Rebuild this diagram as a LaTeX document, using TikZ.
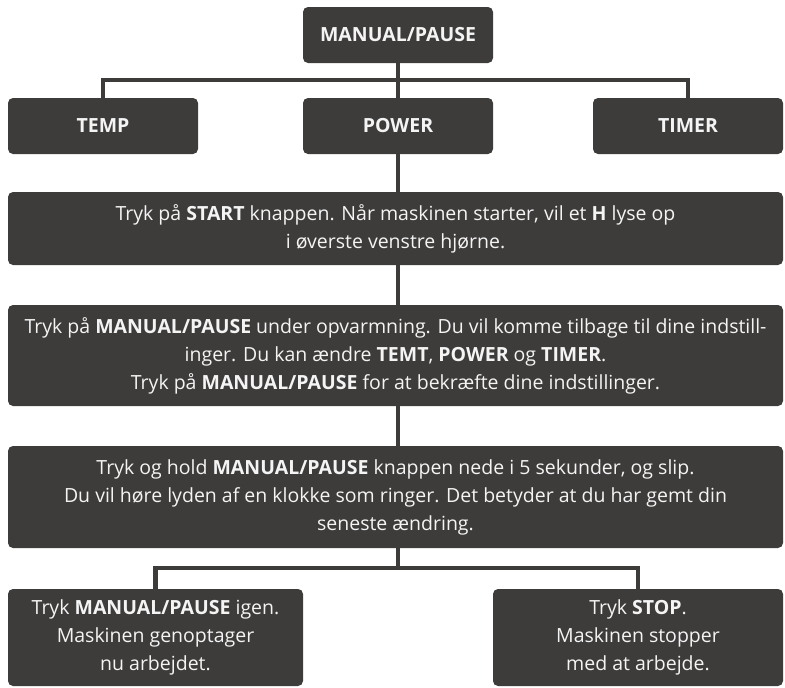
\documentclass[tikz,border=0pt]{standalone}
\usepackage{fontspec}
\setmainfont{Open Sans}
\definecolor{boxgray}{HTML}{3E3C3B}
\definecolor{txtwhite}{HTML}{F4F4F4}
\begin{document}
\begin{tikzpicture}[x=1pt,y=-1pt,
  box/.style={fill=boxgray,rounded corners=5pt,text=txtwhite,align=center,
    inner sep=0pt,font=\fontsize{19.5}{28}\selectfont},
  conn/.style={draw=boxgray,line width=4.6pt,line join=miter}]
\useasboundingbox (0,0) rectangle (785,688);
\node[box,minimum width=190pt,minimum height=56pt] (mp) at (398,35) {\textbf{MANUAL/PAUSE}};
\node[box,minimum width=190pt,minimum height=56pt] (temp) at (103,126) {\textbf{TEMP}};
\node[box,minimum width=190pt,minimum height=56pt] (power) at (398,126) {\textbf{POWER}};
\node[box,minimum width=190pt,minimum height=56pt] (timer) at (688,126) {\textbf{TIMER}};
\node[box,minimum width=775pt,minimum height=73pt] (b2) at (395.5,228.5)
  {Tryk på \textbf{START} knappen. Når maskinen starter, vil et \textbf{H} lyse op\\ i øverste venstre hjørne.};
\node[box,minimum width=775pt,minimum height=101pt] (b3) at (395.5,355.5)
  {Tryk på \textbf{MANUAL/PAUSE} under opvarmning. Du vil komme tilbage til dine indstill-\\ inger. Du kan ændre \textbf{TEMT}, \textbf{POWER} og \textbf{TIMER}.\\ Tryk på \textbf{MANUAL/PAUSE} for at bekræfte dine indstillinger.};
\node[box,minimum width=775pt,minimum height=102pt] (b4) at (395.5,497)
  {Tryk og hold \textbf{MANUAL/PAUSE} knappen nede i 5 sekunder, og slip.\\ Du vil høre lyden af en klokke som ringer. Det betyder at du har gemt din\\ seneste ændring.};
\node[box,minimum width=295pt,minimum height=97pt] (b5) at (155.5,637.5)
  {Tryk \textbf{MANUAL/PAUSE} igen.\\ Maskinen genoptager\\ nu arbejdet.};
\node[box,minimum width=290pt,minimum height=97pt] (b6) at (638,637.5)
  {Tryk \textbf{STOP}.\\ Maskinen stopper\\ med at arbejde.};
\coordinate (j1) at (398,80);
\coordinate (j2) at (398,568);
\draw[conn] (mp.south) -- (j1);
\draw[conn] (temp.north) |- (j1) -| (timer.north);
\draw[conn] (j1) -- (power.north);
\draw[conn] (power.south) -- (power.south |- b2.north);
\draw[conn] (b2.south -| power.south) -- (b3.north -| power.south);
\draw[conn] (b3.south -| power.south) -- (b4.north -| power.south);
\draw[conn] (b4.south -| power.south) -- (j2);
\draw[conn] (b5.north) |- (j2) -| (b6.north);
\end{tikzpicture}
\end{document}
